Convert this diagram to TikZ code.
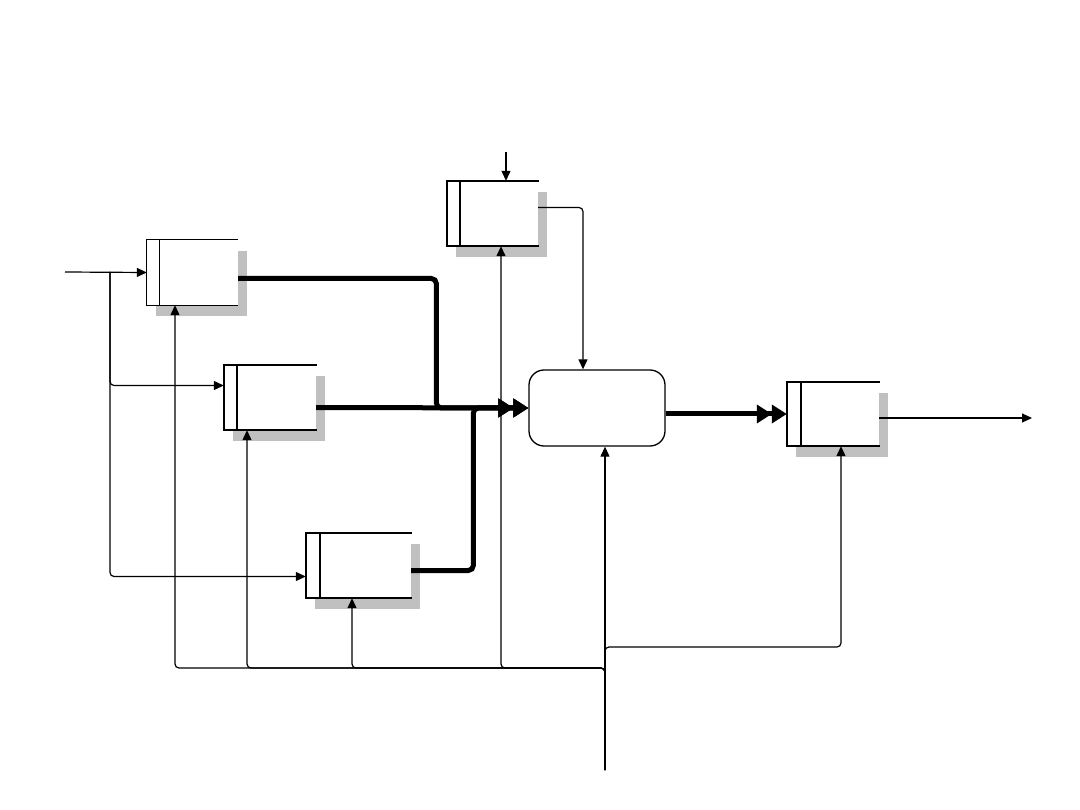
\documentclass[tikz,border=0pt]{standalone}
\usetikzlibrary{arrows.meta,calc,shadows}
\definecolor{shadowgray}{RGB}{192,192,192}
\tikzset{
  boxnode/.style={rectangle, inner sep=0pt, fill=white,
    drop shadow={shadow xshift=9pt, shadow yshift=-11pt, fill=shadowgray, opacity=1}},
  frame/.style={line width=1.9pt, line cap=rect},
  thinframe/.style={line width=1.3pt},
  conn/.style={line width=1.2pt, rounded corners=4pt, -{Triangle[length=10pt,width=9pt]}},
  plain/.style={line width=1.2pt, rounded corners=4pt},
  thickconn/.style={line width=5pt, rounded corners=5pt,
    -{Triangle[length=15pt,width=18pt,sep=0pt]Triangle[length=15pt,width=18pt]}},
}
\newcommand\myboxframe[3]{%
  \draw[#3] (#1.north east) -- (#1.north west) -- (#1.south west) -- (#1.south east);
  \draw[#3] ([xshift=#2pt]#1.north west) -- ([xshift=#2pt]#1.south west);}
\begin{document}
\begin{tikzpicture}[x=1pt,y=-1pt]
\useasboundingbox (0,0) rectangle (1080,810);
% boxes
\node[boxnode, minimum width=91pt, minimum height=65pt] (A) at (192.5,272.5) {};
\node[boxnode, minimum width=92pt, minimum height=65pt] (B) at (270,397.5) {};
\node[boxnode, minimum width=105pt, minimum height=65pt] (C) at (358.5,565.5) {};
\node[boxnode, minimum width=91pt, minimum height=65pt] (D) at (492.5,213.5) {};
\node[boxnode, minimum width=92pt, minimum height=64pt] (E) at (833,414) {};
\myboxframe{A}{13}{thinframe}
\myboxframe{B}{13}{frame}
\myboxframe{C}{14}{frame}
\myboxframe{D}{13.5}{frame}
\myboxframe{E}{14}{frame}
\node[draw, line width=1.3pt, rounded corners=15pt, minimum width=136pt, minimum height=76pt, inner sep=0pt] (F) at (597,408) {};
% coordinates
\coordinate (in) at (65,272);
\coordinate (j1) at (110,272);
\coordinate (dtop) at (506,152);
\coordinate (out) at (1032,418);
\coordinate (src) at (605,770);
\coordinate (bus) at (605,668);
\coordinate (busE) at (605,647);
% inputs
\draw[conn] (in) -- (A.west);
\draw[conn] (j1) |- ($(B.west)+(0,-12)$);
\draw[conn] (j1) |- ($(C.west)+(0,11)$);
% thick outputs
\draw[thickconn] ($(A.east)+(0,6)$) -| ($(F.west)+(-92,0)$) -- (F.west);
\draw[thickconn] ($(C.east)+(0,5)$) -| ($(F.west)+(-55,0)$) -- (F.west);
\draw[thickconn] ($(B.east)+(0,10)$) -- (F.west);
\draw[thickconn] (F.east |- E.west) -- (E.west);
% D
\draw[conn] (dtop) -- (dtop |- D.north);
\draw[conn] ($(D.east)+(0,-6)$) -| ($(F.north)+(-14,0)$);
% E output
\draw[conn] (E.east |- out) -- (out);
% bottom bus
\draw[conn] (src) -- ($(F.south)+(8,0)$);
\draw[conn] (src) -- (busE) -| ($(E.south)+(8,0)$);
\draw[conn] (src) -- (bus) -| ($(A.south)+(-17.5,0)$);
\draw[conn] (src) -- (bus) -| ($(B.south)+(-23,0)$);
\draw[conn] (src) -- (bus) -| ($(C.south)+(-6.5,0)$);
\draw[conn] (src) -- (bus) -| ($(D.south)+(8.5,0)$);
\end{tikzpicture}
\end{document}
